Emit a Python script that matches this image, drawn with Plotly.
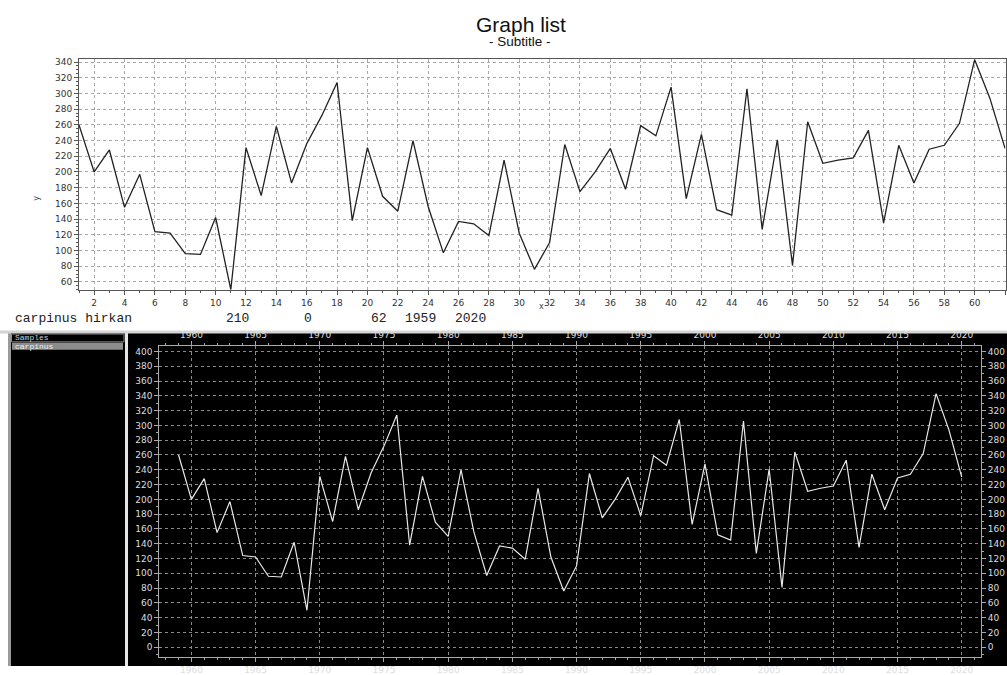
import plotly.graph_objects as go

# Ring-width series for the carpinus sample, 1959-2020
years = list(range(1959, 2021))
index = list(range(1, 63))
widths = [260, 200, 228, 155, 197, 124, 122, 96, 95, 142,
          50, 231, 170, 258, 186, 236, 272, 314, 138, 231,
          169, 150, 240, 156, 97, 137, 134, 119, 215, 122,
          76, 110, 235, 175, 200, 230, 178, 259, 246, 308,
          166, 248, 152, 145, 306, 127, 241, 81, 264, 211,
          215, 218, 253, 135, 234, 186, 229, 234, 262, 343,
          294, 230]

info_row = ["carpinus hirkan", "210", "0", "62", "1959", "2020"]
info_x = [12.5, 224, 302, 369, 403, 452.5]

W, H = 1007, 675


def px(x):
    return x / W


def py(y):
    return 1 - y / H


fig = go.Figure()

# Upper chart: series against its sample index
fig.add_trace(go.Scatter(x=index, y=widths, mode="lines",
                         line=dict(color="#222222", width=1.3),
                         xaxis="x", yaxis="y", hoverinfo="skip", showlegend=False))

# Lower chart: same series against calendar year
fig.add_trace(go.Scatter(x=years, y=widths, mode="lines",
                         line=dict(color="#e8e8e8", width=1.2),
                         xaxis="x2", yaxis="y2", hoverinfo="skip", showlegend=False))
fig.add_trace(go.Scatter(x=years, y=widths, mode="lines", opacity=0,
                         line=dict(color="#e8e8e8", width=1),
                         xaxis="x3", yaxis="y3", hoverinfo="skip", showlegend=False))

tick_font = dict(family="DejaVu Sans", size=9, color="#333333")
dark_font = dict(family="DejaVu Sans", size=9, color="#dddddd")
grid_dash = "3px,3px"

shapes = [
    # lower application window
    dict(type="rect", xref="paper", yref="paper", x0=0, x1=1, y0=py(675), y1=py(334),
         fillcolor="#d4d4d4", line_width=0, layer="below"),
    dict(type="rect", xref="paper", yref="paper", x0=px(0), x1=px(8), y0=py(675), y1=py(337),
         fillcolor="#ffffff", line_width=0, layer="below"),
    dict(type="rect", xref="paper", yref="paper", x0=px(8), x1=px(11), y0=py(675), y1=py(337),
         fillcolor="#9a9a9a", line_width=0, layer="below"),
    dict(type="rect", xref="paper", yref="paper", x0=px(11), x1=px(125), y0=py(675), y1=py(337),
         fillcolor="#000000", line_width=0, layer="below"),
    dict(type="rect", xref="paper", yref="paper", x0=px(125), x1=px(128), y0=py(675), y1=py(337),
         fillcolor="#e6e6e6", line_width=0, layer="below"),
    dict(type="rect", xref="paper", yref="paper", x0=px(128), x1=1, y0=py(675), y1=py(337),
         fillcolor="#000000", line_width=0, layer="below"),
    # sample list header and selected row
    dict(type="rect", xref="paper", yref="paper", x0=px(11.5), x1=px(124), y0=py(345.5), y1=py(337.5),
         fillcolor="#000000", line=dict(color="#8a8a8a", width=1), layer="below"),
    dict(type="rect", xref="paper", yref="paper", x0=px(12), x1=px(123), y0=py(353.5), y1=py(346.5),
         fillcolor="#8c8c8c", line_width=0, layer="below"),
]


def label(text, x, y, font, xanchor="center", textangle=0):
    return dict(text=text, x=px(x), y=py(y), xref="paper", yref="paper",
                xanchor=xanchor, yanchor="middle", textangle=textangle,
                showarrow=False, font=font)


annotations = [
    label("Graph list", 521, 23, dict(family="Liberation Sans", size=21, color="#111111")),
    label("- Subtitle -", 520, 40, dict(family="Liberation Sans", size=13.5, color="#111111")),
    label("y", 37, 200, dict(family="DejaVu Sans", size=8, color="#444444"), textangle=-90),
    label("x", 541, 310, dict(family="DejaVu Sans", size=8, color="#444444")),
    label("Samples", 13, 341.5, dict(family="Liberation Mono", size=8, color="#cfcfcf"), xanchor="left"),
    label("carpinus", 13, 350, dict(family="Liberation Mono", size=8, color="#f0f0f0"), xanchor="left"),
]
for text, lx in zip(info_row, info_x):
    annotations.append(label(text, lx, 322,
                             dict(family="Liberation Mono", size=13, color="#222222"),
                             xanchor="left"))

fig.update_layout(
    width=W, height=H, autosize=False,
    margin=dict(l=0, r=0, t=0, b=0, pad=0),
    paper_bgcolor="#ffffff", plot_bgcolor="rgba(0,0,0,0)",
    showlegend=False,
    shapes=shapes, annotations=annotations,
    xaxis=dict(domain=[px(79), px(1005.5)], range=[1, 62.03], anchor="y",
               tickmode="linear", tick0=2, dtick=2, ticks="outside", ticklen=4,
               tickcolor="#555555", tickfont=tick_font,
               minor=dict(dtick=1, tick0=1, ticks="outside", ticklen=2, tickcolor="#555555", showgrid=False),
               showgrid=True, gridcolor="#a8a8a8", griddash=grid_dash, gridwidth=1,
               showline=True, linecolor="#555555", linewidth=1, mirror=True, zeroline=False),
    yaxis=dict(domain=[py(292.5), py(58)], range=[50, 343.8], anchor="x",
               tickmode="linear", tick0=0, dtick=20, ticks="outside", ticklen=4,
               tickcolor="#555555", tickfont=tick_font,
               minor=dict(dtick=5, ticks="outside", ticklen=2, tickcolor="#555555", showgrid=False),
               showgrid=True, gridcolor="#a8a8a8", griddash=grid_dash, gridwidth=1,
               showline=True, linecolor="#555555", linewidth=1, mirror=True, zeroline=False),
    xaxis2=dict(domain=[px(159.3), px(981)], range=[1957.5, 2021.5], anchor="y2",
                tickmode="linear", tick0=1960, dtick=5, ticks="outside", ticklen=4,
                tickcolor="#aaaaaa", tickfont=dark_font,
                minor=dict(dtick=1, tick0=1960, ticks="outside", ticklen=2, tickcolor="#aaaaaa", showgrid=False),
                showgrid=True, gridcolor="#8a8a8a", griddash=grid_dash, gridwidth=1,
                showline=True, linecolor="#aaaaaa", linewidth=1, zeroline=False),
    yaxis2=dict(domain=[py(665.7), py(350)], range=[-13, 407], anchor="x2",
                tickmode="linear", tick0=0, dtick=20, ticks="outside", ticklen=4,
                tickcolor="#aaaaaa", tickfont=dark_font,
                minor=dict(dtick=10, ticks="outside", ticklen=2, tickcolor="#aaaaaa", showgrid=False),
                showgrid=True, gridcolor="#8a8a8a", griddash=grid_dash, gridwidth=1,
                showline=True, linecolor="#aaaaaa", linewidth=1, zeroline=False),
    xaxis3=dict(overlaying="x2", side="top", anchor="y3", range=[1957.5, 2021.5],
                tickmode="linear", tick0=1960, dtick=5, ticks="outside", ticklen=4,
                tickcolor="#aaaaaa", tickfont=dark_font,
                minor=dict(dtick=1, tick0=1960, ticks="outside", ticklen=2, tickcolor="#aaaaaa", showgrid=False),
                showgrid=False, showline=True, linecolor="#aaaaaa", linewidth=1, zeroline=False),
    yaxis3=dict(overlaying="y2", side="right", anchor="x3", range=[-13, 407],
                tickmode="linear", tick0=0, dtick=20, ticks="outside", ticklen=4,
                tickcolor="#aaaaaa", tickfont=dark_font,
                minor=dict(dtick=10, ticks="outside", ticklen=2, tickcolor="#aaaaaa", showgrid=False),
                showgrid=False, showline=True, linecolor="#aaaaaa", linewidth=1, zeroline=False),
)

fig.write_html("out.html")
